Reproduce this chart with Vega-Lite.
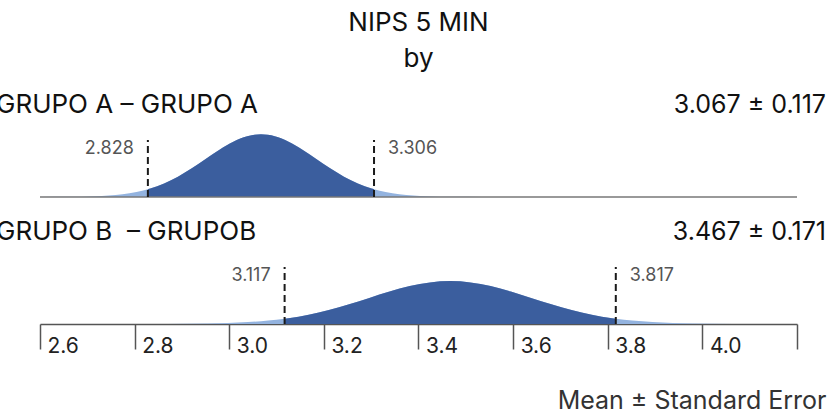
{
  "$schema": "https://vega.github.io/schema/vega-lite/v6.json",
  "width": 757,
  "height": 244,
  "autosize": {"type": "none"},
  "padding": {"left": 40, "top": 80, "right": 36, "bottom": 91},
  "background": "white",
  "title": {
    "text": ["NIPS 5 MIN", "by"],
    "font": "Inter",
    "fontSize": 26,
    "fontWeight": "normal",
    "color": "#111",
    "lineHeight": 36,
    "anchor": "middle",
    "offset": 8
  },
  "datasets": {
    "curves": [
      {"g": "A", "x": 2.599, "d": 0.0011},
      {"g": "A", "x": 2.6575, "d": 0.0075},
      {"g": "A", "x": 2.716, "d": 0.0379},
      {"g": "A", "x": 2.7453, "d": 0.0777},
      {"g": "A", "x": 2.7745, "d": 0.1498},
      {"g": "A", "x": 2.8038, "d": 0.2713},
      {"g": "A", "x": 2.828, "d": 0.4233},
      {"g": "A", "x": 2.833, "d": 0.4615},
      {"g": "A", "x": 2.8623, "d": 0.7374},
      {"g": "A", "x": 2.8915, "d": 1.107},
      {"g": "A", "x": 2.9208, "d": 1.5611},
      {"g": "A", "x": 2.95, "d": 2.0681},
      {"g": "A", "x": 2.9793, "d": 2.5738},
      {"g": "A", "x": 3.0085, "d": 3.0091},
      {"g": "A", "x": 3.0378, "d": 3.3049},
      {"g": "A", "x": 3.067, "d": 3.4098},
      {"g": "A", "x": 3.0963, "d": 3.3049},
      {"g": "A", "x": 3.1255, "d": 3.0091},
      {"g": "A", "x": 3.1548, "d": 2.5738},
      {"g": "A", "x": 3.184, "d": 2.0681},
      {"g": "A", "x": 3.2133, "d": 1.5611},
      {"g": "A", "x": 3.2425, "d": 1.107},
      {"g": "A", "x": 3.2718, "d": 0.7374},
      {"g": "A", "x": 3.301, "d": 0.4615},
      {"g": "A", "x": 3.306, "d": 0.4233},
      {"g": "A", "x": 3.3303, "d": 0.2713},
      {"g": "A", "x": 3.3595, "d": 0.1498},
      {"g": "A", "x": 3.3888, "d": 0.0777},
      {"g": "A", "x": 3.418, "d": 0.0379},
      {"g": "A", "x": 3.4765, "d": 0.0075},
      {"g": "A", "x": 3.535, "d": 0.0011},
      {"g": "B", "x": 2.783, "d": 0.0008},
      {"g": "B", "x": 2.8685, "d": 0.0051},
      {"g": "B", "x": 2.954, "d": 0.0259},
      {"g": "B", "x": 2.9968, "d": 0.0532},
      {"g": "B", "x": 3.0395, "d": 0.1025},
      {"g": "B", "x": 3.0823, "d": 0.1856},
      {"g": "B", "x": 3.117, "d": 0.2872},
      {"g": "B", "x": 3.125, "d": 0.3157},
      {"g": "B", "x": 3.1678, "d": 0.5045},
      {"g": "B", "x": 3.2105, "d": 0.7574},
      {"g": "B", "x": 3.2533, "d": 1.0681},
      {"g": "B", "x": 3.296, "d": 1.415},
      {"g": "B", "x": 3.3388, "d": 1.761},
      {"g": "B", "x": 3.3815, "d": 2.0589},
      {"g": "B", "x": 3.4243, "d": 2.2612},
      {"g": "B", "x": 3.467, "d": 2.333},
      {"g": "B", "x": 3.5098, "d": 2.2612},
      {"g": "B", "x": 3.5525, "d": 2.0589},
      {"g": "B", "x": 3.5953, "d": 1.761},
      {"g": "B", "x": 3.638, "d": 1.415},
      {"g": "B", "x": 3.6808, "d": 1.0681},
      {"g": "B", "x": 3.7235, "d": 0.7574},
      {"g": "B", "x": 3.7663, "d": 0.5045},
      {"g": "B", "x": 3.809, "d": 0.3157},
      {"g": "B", "x": 3.817, "d": 0.2872},
      {"g": "B", "x": 3.8518, "d": 0.1856},
      {"g": "B", "x": 3.8945, "d": 0.1025},
      {"g": "B", "x": 3.9373, "d": 0.0532},
      {"g": "B", "x": 3.98, "d": 0.0259},
      {"g": "B", "x": 4.0655, "d": 0.0051},
      {"g": "B", "x": 4.151, "d": 0.0008}
    ],
    "stats": [
      {"g": "A", "label": "GRUPO A – GRUPO A", "summary": "3.067 ± 0.117", "lo": 2.828, "hi": 3.306},
      {"g": "B", "label": "GRUPO B\u00a0 – GRUPOB", "summary": "3.467 ± 0.171", "lo": 3.117, "hi": 3.817}
    ]
  },
  "resolve": {"scale": {"y": "independent"}},
  "layer": [
    {
      "layer": [
        {
          "data": {"name": "curves"},
          "transform": [{"filter": "datum.g == 'A'"}],
          "mark": {"type": "area", "color": "#93B3DF", "interpolate": "monotone"},
          "encoding": {
            "x": {"field": "x", "type": "quantitative", "scale": {"domain": [2.6, 4.2], "nice": false, "zero": false}},
            "y": {"field": "d", "type": "quantitative", "scale": {"domain": [-6.902, 6.359], "nice": false, "zero": false}, "axis": null}
          }
        },
        {
          "data": {"name": "curves"},
          "transform": [{"filter": "datum.g == 'A' && datum.x >= 2.828 && datum.x <= 3.306"}],
          "mark": {"type": "area", "color": "#3B5E9E", "interpolate": "monotone"},
          "encoding": {
            "x": {"field": "x", "type": "quantitative"},
            "y": {"field": "d", "type": "quantitative", "scale": {"domain": [-6.902, 6.359], "nice": false, "zero": false}, "axis": null}
          }
        },
        {
          "data": {"name": "stats"},
          "transform": [{"filter": "datum.g == 'A'"}],
          "mark": {"type": "rule", "color": "#777", "strokeWidth": 1.5},
          "encoding": {
            "x": {"datum": 2.6, "type": "quantitative"},
            "x2": {"datum": 4.2},
            "y": {"datum": 0, "type": "quantitative", "scale": {"domain": [-6.902, 6.359], "nice": false, "zero": false}, "axis": null}
          }
        },
        {
          "data": {"name": "stats"},
          "transform": [{"filter": "datum.g == 'A'"}, {"fold": ["lo", "hi"], "as": ["bound", "val"]}],
          "mark": {"type": "rule", "color": "#1a1a1a", "strokeWidth": 2, "strokeDash": [7, 4]},
          "encoding": {
            "x": {"field": "val", "type": "quantitative"},
            "y": {"datum": 0, "type": "quantitative", "scale": {"domain": [-6.902, 6.359], "nice": false, "zero": false}, "axis": null},
            "y2": {"datum": 3.1}
          }
        },
        {
          "data": {"name": "stats"},
          "transform": [{"filter": "datum.g == 'A'"}],
          "mark": {"type": "text", "align": "right", "baseline": "middle", "dx": -14, "fontSize": 18, "color": "#555", "font": "Inter"},
          "encoding": {
            "x": {"field": "lo", "type": "quantitative"},
            "y": {"datum": 2.6, "type": "quantitative", "scale": {"domain": [-6.902, 6.359], "nice": false, "zero": false}, "axis": null},
            "text": {"field": "lo", "type": "quantitative", "format": ".3f"}
          }
        },
        {
          "data": {"name": "stats"},
          "transform": [{"filter": "datum.g == 'A'"}],
          "mark": {"type": "text", "align": "left", "baseline": "middle", "dx": 14, "fontSize": 18, "color": "#555", "font": "Inter"},
          "encoding": {
            "x": {"field": "hi", "type": "quantitative"},
            "y": {"datum": 2.6, "type": "quantitative", "scale": {"domain": [-6.902, 6.359], "nice": false, "zero": false}, "axis": null},
            "text": {"field": "hi", "type": "quantitative", "format": ".3f"}
          }
        },
        {
          "data": {"name": "stats"},
          "transform": [{"filter": "datum.g == 'A'"}],
          "mark": {"type": "text", "align": "left", "baseline": "middle", "dx": -44, "fontSize": 26, "color": "#111", "font": "Inter"},
          "encoding": {
            "x": {"datum": 2.6, "type": "quantitative"},
            "y": {"datum": 5, "type": "quantitative", "scale": {"domain": [-6.902, 6.359], "nice": false, "zero": false}, "axis": null},
            "text": {"field": "label", "type": "nominal"}
          }
        },
        {
          "data": {"name": "stats"},
          "transform": [{"filter": "datum.g == 'A'"}],
          "mark": {"type": "text", "align": "right", "baseline": "middle", "dx": 29, "fontSize": 25, "color": "#111", "font": "Inter"},
          "encoding": {
            "x": {"datum": 4.2, "type": "quantitative"},
            "y": {"datum": 5, "type": "quantitative", "scale": {"domain": [-6.902, 6.359], "nice": false, "zero": false}, "axis": null},
            "text": {"field": "summary", "type": "nominal"}
          }
        }
      ]
    },
    {
      "layer": [
        {
          "data": {"name": "curves"},
          "transform": [{"filter": "datum.g == 'B'"}],
          "mark": {"type": "area", "color": "#93B3DF", "interpolate": "monotone"},
          "encoding": {
            "x": {
              "field": "x", "type": "quantitative",
              "scale": {"domain": [2.6, 4.2], "nice": false, "zero": false},
              "axis": {
                "values": [2.6, 2.8, 3.0, 3.2, 3.4, 3.6, 3.8, 4.0, 4.2],
                "labelExpr": "datum.value > 4.1 ? '' : format(datum.value, '.1f')",
                "title": "Mean ± Standard Error",
                "grid": false,
                "domainColor": "#555",
                "domainWidth": 1.5,
                "tickColor": "#555",
                "tickWidth": 1.5,
                "tickSize": 25,
                "labelAlign": "left",
                "labelOffset": 7,
                "labelBaseline": "alphabetic",
                "labelPadding": 3,
                "labelFontSize": 21,
                "labelFont": "Inter",
                "labelColor": "#222",
                "labelFlush": false,
                "labelOverlap": false,
                "labelBound": false,
                "titleFont": "Inter",
                "titleFontSize": 25,
                "titleFontWeight": "normal",
                "titleColor": "#333",
                "titleAnchor": "end",
                "titleAlign": "right",
                "titleBaseline": "alphabetic",
                "titleX": 786,
                "titleY": 84
              }
            },
            "y": {"field": "d", "type": "quantitative", "scale": {"domain": [0, 13.261], "nice": false, "zero": false}, "axis": null}
          }
        },
        {
          "data": {"name": "curves"},
          "transform": [{"filter": "datum.g == 'B' && datum.x >= 3.117 && datum.x <= 3.817"}],
          "mark": {"type": "area", "color": "#3B5E9E", "interpolate": "monotone"},
          "encoding": {
            "x": {"field": "x", "type": "quantitative"},
            "y": {"field": "d", "type": "quantitative", "scale": {"domain": [0, 13.261], "nice": false, "zero": false}, "axis": null}
          }
        },
        {
          "data": {"name": "stats"},
          "transform": [{"filter": "datum.g == 'B'"}, {"fold": ["lo", "hi"], "as": ["bound", "val"]}],
          "mark": {"type": "rule", "color": "#1a1a1a", "strokeWidth": 2, "strokeDash": [7, 4]},
          "encoding": {
            "x": {"field": "val", "type": "quantitative"},
            "y": {"datum": 0, "type": "quantitative", "scale": {"domain": [0, 13.261], "nice": false, "zero": false}, "axis": null},
            "y2": {"datum": 3.1}
          }
        },
        {
          "data": {"name": "stats"},
          "transform": [{"filter": "datum.g == 'B'"}],
          "mark": {"type": "text", "align": "right", "baseline": "middle", "dx": -14, "fontSize": 18, "color": "#555", "font": "Inter"},
          "encoding": {
            "x": {"field": "lo", "type": "quantitative"},
            "y": {"datum": 2.6, "type": "quantitative", "scale": {"domain": [0, 13.261], "nice": false, "zero": false}, "axis": null},
            "text": {"field": "lo", "type": "quantitative", "format": ".3f"}
          }
        },
        {
          "data": {"name": "stats"},
          "transform": [{"filter": "datum.g == 'B'"}],
          "mark": {"type": "text", "align": "left", "baseline": "middle", "dx": 14, "fontSize": 18, "color": "#555", "font": "Inter"},
          "encoding": {
            "x": {"field": "hi", "type": "quantitative"},
            "y": {"datum": 2.6, "type": "quantitative", "scale": {"domain": [0, 13.261], "nice": false, "zero": false}, "axis": null},
            "text": {"field": "hi", "type": "quantitative", "format": ".3f"}
          }
        },
        {
          "data": {"name": "stats"},
          "transform": [{"filter": "datum.g == 'B'"}],
          "mark": {"type": "text", "align": "left", "baseline": "middle", "dx": -44, "fontSize": 26, "color": "#111", "font": "Inter"},
          "encoding": {
            "x": {"datum": 2.6, "type": "quantitative"},
            "y": {"datum": 5, "type": "quantitative", "scale": {"domain": [0, 13.261], "nice": false, "zero": false}, "axis": null},
            "text": {"field": "label", "type": "nominal"}
          }
        },
        {
          "data": {"name": "stats"},
          "transform": [{"filter": "datum.g == 'B'"}],
          "mark": {"type": "text", "align": "right", "baseline": "middle", "dx": 29, "fontSize": 25, "color": "#111", "font": "Inter"},
          "encoding": {
            "x": {"datum": 4.2, "type": "quantitative"},
            "y": {"datum": 5, "type": "quantitative", "scale": {"domain": [0, 13.261], "nice": false, "zero": false}, "axis": null},
            "text": {"field": "summary", "type": "nominal"}
          }
        }
      ]
    }
  ],
  "config": {
    "view": {"stroke": null},
    "axis": {"grid": false}
  }
}
